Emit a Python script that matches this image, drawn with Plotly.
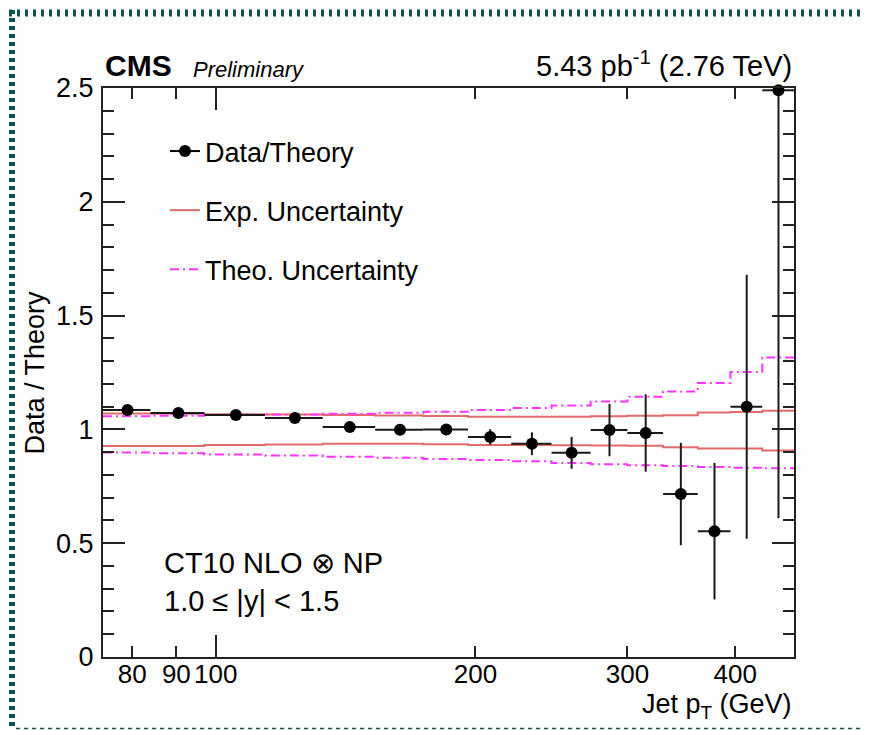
import math
import plotly.graph_objects as go

# ---- data ----
bin_edges = [74, 84, 97, 114, 133, 153, 174, 196, 220, 245, 272, 300, 330, 362, 395, 430, 468]
pt_center = [79, 90.5, 105.5, 123.5, 143, 163.5, 185, 208, 232.5, 258.5, 286, 315, 346, 378.5, 412.5, 449]
pt_halfwidth = [5, 6.5, 8.5, 9.5, 10, 10.5, 11, 12, 12.5, 13.5, 14, 15, 16, 16.5, 17.5, 19]
ratio = [1.085, 1.072, 1.063, 1.050, 1.010, 0.998, 1.000, 0.967, 0.937, 0.897,
         0.997, 0.984, 0.716, 0.553, 1.100, 2.490]
ratio_err = [0.005, 0.006, 0.007, 0.008, 0.010, 0.013, 0.018, 0.034, 0.050, 0.070,
             0.115, 0.170, 0.225, 0.300, 0.580, 1.880]

exp_up = [1.070, 1.069, 1.067, 1.065, 1.063, 1.061, 1.059, 1.056, 1.056, 1.056,
          1.058, 1.060, 1.062, 1.074, 1.076, 1.082]
exp_down = [0.927, 0.927, 0.931, 0.934, 0.937, 0.937, 0.935, 0.932, 0.931, 0.930,
            0.929, 0.928, 0.922, 0.916, 0.916, 0.907]
theo_up = [1.058, 1.060, 1.063, 1.066, 1.069, 1.073, 1.077, 1.085, 1.094, 1.105,
           1.123, 1.144, 1.167, 1.204, 1.252, 1.316]
theo_down = [0.899, 0.895, 0.890, 0.885, 0.880, 0.875, 0.870, 0.866, 0.860, 0.852,
             0.847, 0.843, 0.839, 0.835, 0.832, 0.829]

x_ticks = [80, 90, 100, 200, 300, 400]
x_range = [74, 468]

FONT = "Liberation Sans, Arial, Helvetica, sans-serif"
EXP_COLOR = "#e36a6a"
THEO_COLOR = "#ff33ff"
BORDER = "#0d5550"

# the page body adds an 8px offset; the figure is sized to fit the window
OFF = 8
FIG_W, FIG_H = 872 - OFF, 730 - OFF


def step_pair(up, down):
    xs = list(bin_edges) + [None] + list(bin_edges)
    ys = list(up) + [up[-1]] + [None] + list(down) + [down[-1]]
    return xs, ys


fig = go.Figure()

# legend-only entries
fig.add_trace(go.Scatter(x=[None], y=[None], mode="lines+markers", name="Data/Theory",
                         legendgroup="a", line=dict(color="black", width=2),
                         marker=dict(color="black", size=12)))

ex, ey = step_pair(exp_up, exp_down)
fig.add_trace(go.Scatter(x=ex, y=ey, mode="lines", line_shape="hv", name="Exp. Uncertainty",
                         legendgroup="b", line=dict(color=EXP_COLOR, width=2)))

tx, ty = step_pair(theo_up, theo_down)
fig.add_trace(go.Scatter(x=tx, y=ty, mode="lines", line_shape="hv", name="Theo. Uncertainty",
                         legendgroup="c",
                         line=dict(color=THEO_COLOR, width=2, dash="9px,4px,2px,4px")))

# error bars (clipped to the frame)
fig.add_trace(go.Scatter(x=pt_center, y=ratio, mode="markers", showlegend=False,
                         marker=dict(color="rgba(0,0,0,0)", size=1),
                         error_x=dict(type="data", array=pt_halfwidth, symmetric=True,
                                      color="#1a1a1a", thickness=2, width=0),
                         error_y=dict(type="data", array=ratio_err, symmetric=True,
                                      color="#1a1a1a", thickness=2, width=0)))
# markers (not clipped)
fig.add_trace(go.Scatter(x=pt_center, y=ratio, mode="markers", showlegend=False,
                         cliponaxis=False, marker=dict(color="black", size=12)))

# ---- frame geometry in window pixels ----
L, R, T, B = 103, 794, 88, 657
W, H = R - L, B - T


def fx(px):
    return (px - L) / W


def fy(py):
    return (B - py) / H


fig.add_shape(type="line", xref="paper", yref="paper", x0=fx(12), x1=fx(12), y0=fy(10), y1=fy(730),
              line=dict(color=BORDER, width=6, dash="4px,4px"))
fig.add_shape(type="line", xref="paper", yref="paper", x0=fx(9), x1=fx(872), y0=fy(13), y1=fy(13),
              line=dict(color=BORDER, width=7, dash="3px,5px"))
fig.add_shape(type="line", xref="paper", yref="paper", x0=fx(16), x1=fx(872), y0=fy(728.5), y1=fy(728.5),
              line=dict(color=BORDER, width=1.5, dash="4px,4px"))

ann = [
    dict(text="<b>CMS</b>", x=0, y=fy(84), xanchor="left", yanchor="bottom", font=dict(size=30)),
    dict(text="<i>Preliminary</i>", x=fx(191), y=fy(84), xanchor="left", yanchor="bottom",
         font=dict(size=22)),
    dict(text="5.43 pb<sup>-1</sup> (2.76 TeV)", x=1, y=fy(84), xanchor="right", yanchor="bottom",
         font=dict(size=29)),
    dict(text="CT10 NLO ⊗ NP", x=fx(162), y=fy(563), xanchor="left", yanchor="middle",
         font=dict(size=29)),
    dict(text="1.0 ≤ |y| < 1.5", x=fx(162), y=fy(601), xanchor="left", yanchor="middle",
         font=dict(size=29)),
    dict(text="Jet p<sub>T</sub> (GeV)", x=1, y=fy(706), xanchor="right", yanchor="middle",
         font=dict(size=27)),
    dict(text="Data / Theory", x=fx(34), y=0.5, xanchor="center", yanchor="middle",
         textangle=-90, font=dict(size=27)),
]
for a in ann:
    a.update(xref="paper", yref="paper", showarrow=False)
    a["font"].update(family=FONT, color="black")
    fig.add_annotation(**a)

axis_common = dict(showline=True, linecolor="#222", linewidth=2, mirror="allticks",
                   ticks="inside", tickcolor="#222", tickwidth=1.5, showgrid=False,
                   zeroline=False, automargin=False)

fig.update_xaxes(type="log", range=[math.log10(x_range[0]), math.log10(x_range[1])],
                 tickvals=x_ticks, ticktext=[str(v) for v in x_ticks], ticklen=11, tickangle=0,
                 tickfont=dict(family=FONT, size=26, color="black"),
                 minor=dict(tickvals=[100], ticklen=22, ticks="inside", tickcolor="#222",
                            tickwidth=1.5, showgrid=False),
                 ticklabelstandoff=-7, **axis_common)
fig.update_yaxes(range=[0, 2.5], dtick=0.5, tickformat="~g", ticklen=22,
                 tickfont=dict(family=FONT, size=27, color="black"),
                 minor=dict(dtick=0.1, ticklen=11, ticks="inside", tickcolor="#222",
                            tickwidth=1.5, showgrid=False),
                 ticklabelstandoff=2, **axis_common)

fig.update_layout(
    width=FIG_W, height=FIG_H,
    margin=dict(l=L - OFF, r=872 - R, t=T - OFF, b=730 - B),
    paper_bgcolor="white", plot_bgcolor="white",
    font=dict(family=FONT, color="black"),
    showlegend=True,
    legend=dict(x=fx(165), y=fy(127), xanchor="left", yanchor="top",
                font=dict(family=FONT, size=27, color="black"),
                bgcolor="rgba(0,0,0,0)", tracegroupgap=21, traceorder="grouped",
                itemwidth=30),
)

fig.write_html("out.html")
